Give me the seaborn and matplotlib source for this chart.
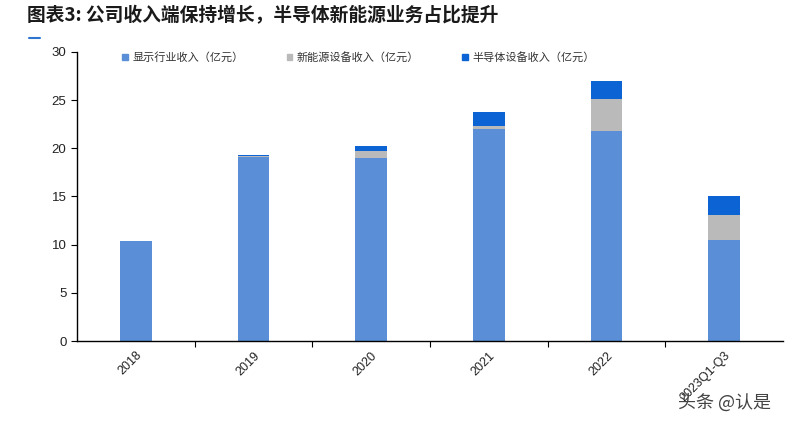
import matplotlib
matplotlib.use("Agg")
import matplotlib.pyplot as plt
import seaborn as sns
import numpy as np
import pandas as pd
from matplotlib.patches import Patch
from matplotlib.ticker import FixedLocator

categories = ["2018", "2019", "2020", "2021", "2022", "2023Q1-Q3"]
display_rev = [10.4, 19.05, 19.0, 22.0, 21.8, 10.5]
newenergy_rev = [0.0, 0.15, 0.7, 0.35, 3.3, 2.6]
semi_rev = [0.0, 0.1, 0.5, 1.45, 1.9, 2.0]
series_names = ["显示行业收入（亿元）", "新能源设备收入（亿元）", "半导体设备收入（亿元）"]
title_text = "图表3: 公司收入端保持增长，半导体新能源业务占比提升"

sns.set_theme(style="white")
plt.rcParams["font.family"] = ["Noto Sans CJK SC", "DejaVu Sans"]

c_display = "#5A8ED6"
c_new = "#BABABA"
c_semi = "#0B63D4"

df = pd.DataFrame({
    "cat": categories,
    "display": display_rev,
    "new": newenergy_rev,
    "semi": semi_rev,
})
df["lvl2"] = df["display"] + df["new"]
df["lvl3"] = df["lvl2"] + df["semi"]

fig = plt.figure(figsize=(8, 4.26), dpi=100)
ax = fig.add_axes([0.096, 0.1995, 0.883, 0.6785])

bw = 0.27
sns.barplot(data=df, x="cat", y="lvl3", color=c_semi, width=bw, saturation=1, ax=ax, linewidth=0)
sns.barplot(data=df, x="cat", y="lvl2", color=c_new, width=bw, saturation=1, ax=ax, linewidth=0)
sns.barplot(data=df, x="cat", y="display", color=c_display, width=bw, saturation=1, ax=ax, linewidth=0)

ax.set_xlim(-0.5, len(categories) - 0.5)
ax.set_ylim(0, 30)
ax.set_yticks([0, 5, 10, 15, 20, 25, 30])
ax.set_xlabel("")
ax.set_ylabel("")

for s in ["top", "right"]:
    ax.spines[s].set_visible(False)
for s in ["left", "bottom"]:
    ax.spines[s].set_color("black")
    ax.spines[s].set_linewidth(1.0)

ax.tick_params(axis="y", which="major", direction="out", length=4, width=0.8, color="black",
               left=True, labelsize=9.5, labelcolor="#222222")
ax.tick_params(axis="x", which="major", length=0, labelsize=9, labelcolor="#222222", pad=6)
ax.xaxis.set_minor_locator(FixedLocator(np.arange(0.5, len(categories) - 0.5, 1.0)))
ax.tick_params(axis="x", which="minor", direction="out", length=4, width=0.8, color="black", bottom=True)
for lab in ax.get_xticklabels():
    lab.set_rotation(45)
    lab.set_ha("right")
    lab.set_rotation_mode("anchor")
    lab.set_family(["Liberation Sans", "DejaVu Sans"])
for lab in ax.get_yticklabels():
    lab.set_family(["Liberation Sans", "DejaVu Sans"])

handles = [Patch(color=c_display), Patch(color=c_new), Patch(color=c_semi)]
leg = ax.legend(handles, series_names, loc="upper left", bbox_to_anchor=(0.05, 1.035), ncol=3,
                frameon=False, fontsize=8, handlelength=0.5, handleheight=0.5,
                handletextpad=0.4, columnspacing=3.9)
for t in leg.get_texts():
    t.set_color("#333333")

fig.text(0.034, 0.963, title_text, fontsize=13.5, fontweight="bold", style="italic",
         color="#1a1a1a", ha="left", va="center")
fig.add_artist(plt.Line2D([0.036, 0.05], [0.91, 0.91], color="#2E75D0", linewidth=1.5))

fig.text(0.848, 0.055, "头条 @认是", fontsize=13, color="#444444", ha="left", va="center")

fig.savefig("out.png", dpi=100)
